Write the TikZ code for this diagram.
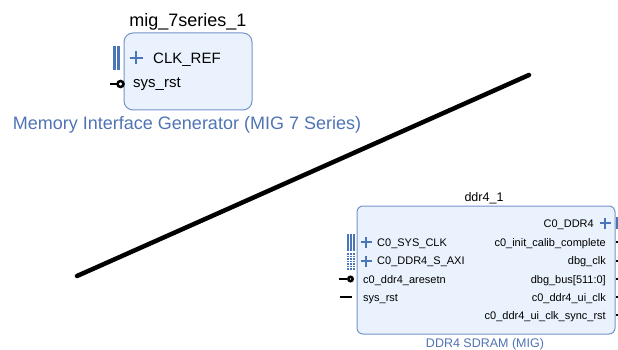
\documentclass[tikz,border=0pt]{standalone}
\usepackage{fontspec}
\setmainfont{Liberation Sans}
\usetikzlibrary{positioning}
\definecolor{ipfill}{HTML}{EAF3FD}
\definecolor{ipedge}{HTML}{7393C8}
\definecolor{iptext}{HTML}{4F73B5}
\definecolor{pinblue}{HTML}{4A76B8}

\begin{document}
\begin{tikzpicture}[x=1pt,y=-1pt,
ipbox/.style={draw=ipedge,fill=ipfill,line width=1pt,rounded corners=#1},ipbox/.default=6pt,
bigtxt/.style={font=\fontsize{18}{20}\selectfont,inner sep=0pt},
midtxt/.style={font=\fontsize{15}{17}\selectfont,inner sep=0pt},
smltxt/.style={font=\fontsize{11}{13}\selectfont,inner sep=0pt},
ttltxt/.style={font=\fontsize{12.5}{14}\selectfont,inner sep=0pt},
plusmark/.style={pinblue,line width=1.8pt},
buspin/.style={pinblue,line width=1.5pt},
blkpin/.style={black,line width=2.5pt}]
\useasboundingbox (0,0) rectangle (618,350);
\draw[ipbox=9pt] (124,33) rectangle (252,110);
\draw[ipbox=6pt] (357,206) rectangle (615,334);
\node[bigtxt,anchor=base] (migname) at (188,27) {mig\_7series\_1};
\node[midtxt,anchor=base west] (migclk) at (153,64) {CLK\_REF};
\node[midtxt,anchor=base west] (migrst) at (133,88) {sys\_rst};
\node[bigtxt,anchor=base,text=iptext] (migtype) at (187,130) {Memory Interface Generator (MIG 7 Series)};
\node[ttltxt,anchor=base] (ddrname) at (484,201) {ddr4\_1};
\node[ttltxt,anchor=base,text=iptext] (ddrtype) at (485,347) {DDR4 SDRAM (MIG)};
\node[smltxt,anchor=base west] (sysclk) at (377,246) {C0\_SYS\_CLK};
\node[smltxt,anchor=base west] (saxi) at (377,264) {C0\_DDR4\_S\_AXI};
\node[smltxt,anchor=base west] (aresetn) at (363,283) {c0\_ddr4\_aresetn};
\node[smltxt,anchor=base west] (ddrrst) at (363,301) {sys\_rst};
\node[smltxt,anchor=base east] (cddr) at (594,227) {C0\_DDR4};
\node[smltxt,anchor=base east] (calib) at (606,246) {c0\_init\_calib\_complete};
\node[smltxt,anchor=base east] (dbgclk) at (606,264) {dbg\_clk};
\node[smltxt,anchor=base east] (dbgbus) at (606,283) {dbg\_bus[511:0]};
\node[smltxt,anchor=base east] (uiclk) at (606,301) {c0\_ddr4\_ui\_clk};
\node[smltxt,anchor=base east] (uirst) at (606,319) {c0\_ddr4\_ui\_clk\_sync\_rst};
\foreach \x/\y/\s in {136/58/6.5,366/242/5.5,366/261/5.5,605/223/5.5}{
\draw[plusmark] (\x-\s,\y)--(\x+\s,\y) (\x,\y-\s)--(\x,\y+\s);}
\foreach \x in {114.5,118.5}{\draw[buspin,line width=2.4pt] (\x,46)--(\x,70);}
\foreach \x in {348,351,354}{\draw[buspin] (\x,234)--(\x,251);
\draw[buspin,dash pattern=on 1.5pt off 1pt] (\x,253)--(\x,270);}
\draw[buspin] (617,217)--(617,229);
\draw[blkpin] (110,84)--(117,84);
\draw[blkpin,fill=white] (120.5,84) circle (3pt);
\draw[blkpin] (339,279)--(347,279);
\draw[blkpin,fill=white] (350.5,279) circle (2.2pt);
\draw[blkpin] (340,297)--(352,297);
\foreach \y in {242,261,297,315}{\draw[black,line width=1.5pt] (616,\y)--(620,\y);}
\draw[black,line width=2.5pt] (616,279)--(620,279);
\coordinate (slashlo) at (77,276);
\coordinate (slashhi) at (529,75);
\draw[black,line width=4.5pt,line cap=round] (slashlo)--(slashhi);
\end{tikzpicture}
\end{document}
